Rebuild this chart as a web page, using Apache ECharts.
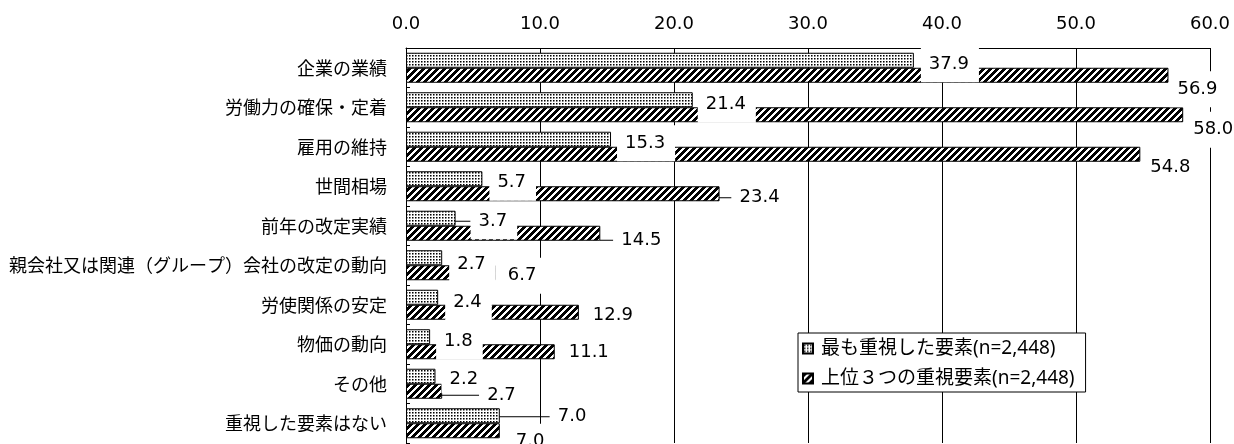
<!DOCTYPE html>
<html>
<head>
<meta charset="utf-8">
<script src="https://cdn.jsdelivr.net/npm/echarts@6/dist/echarts.min.js"></script>
<style>
html,body{margin:0;padding:0;background:#fff;}
#chart{width:1234px;height:444px;}
</style>
</head>
<body>
<div id="chart"></div>
<script>
// ---- data ----
const categories = ["企業の業績","労働力の確保・定着","雇用の維持","世間相場","前年の改定実績","親会社又は関連（グループ）会社の改定の動向","労使関係の安定","物価の動向","その他","重視した要素はない"];
const seriesNames = ["最も重視した要素(n=2,448)","上位３つの重視要素(n=2,448)"];
const mostImportant = [37.9, 21.4, 15.3, 5.7, 3.7, 2.7, 2.4, 1.8, 2.2, 7.0];
const top3 = [56.9, 58.0, 54.8, 23.4, 14.5, 6.7, 12.9, 11.1, 2.7, 7.0];
const xTicks = [0, 10, 20, 30, 40, 50, 60];

// ---- label placement (style, not data) ----
// [text start offset from bar end, vertical offset of text centre]
const labelShift = [
  [[15,4],[13,5],[14,4],[15,4],[23,3],[15,7],[15,5],[14,5],[14,3],[58,1]],
  [[9,14],[10,15],[10,13],[20,4],[21,7],[12,3],[14,3],[14,1],[45,4],[16,11]]
];
const leaderIdx = [[4,9],[3,4,8]];
const smallBottomPad = [[8],[]];
const PADL = 8;

function makeDots(){
  const c = document.createElement('canvas'); c.width = 3; c.height = 3;
  const g = c.getContext('2d');
  g.fillStyle = '#fff'; g.fillRect(0,0,3,3);
  g.fillStyle = '#000'; g.fillRect(1,1,1,1);
  g.fillStyle = '#777'; g.fillRect(2,1,1,1); g.fillRect(1,2,1,1);
  g.fillStyle = '#bbb'; g.fillRect(2,2,1,1);
  return c;
}
function makeHatch(){
  const n = 7;
  const c = document.createElement('canvas'); c.width = n; c.height = n;
  const g = c.getContext('2d');
  const img = g.createImageData(n, n);
  for (let y = 0; y < n; y++) for (let x = 0; x < n; x++) {
    const k = ((x + y) % n);
    const v = k < 4 ? 0 : 255;
    const i = (y*n + x)*4;
    img.data[i]=v; img.data[i+1]=v; img.data[i+2]=v; img.data[i+3]=255;
  }
  g.putImageData(img,0,0);
  return c;
}
const patterns = [
  {image: makeDots(), repeat: 'repeat'},
  {image: makeHatch(), repeat: 'repeat'}
];

const NUMFONT = 'DejaVu Sans, Verdana, sans-serif';
const JPFONT = '"Noto Sans CJK JP", sans-serif';
const LEGFONT = '"Noto Sans", "Noto Sans CJK JP", sans-serif';

function buildSeries(values, si){
  return {
    type: 'bar',
    name: seriesNames[si],
    z: si === 0 ? 3 : 2,
    barGap: '0%',
    barCategoryGap: '24%',
    itemStyle: {color: patterns[si], borderColor: '#000', borderWidth: 1},
    data: values.map((v, i) => {
      const item = {value: v, labelLine: {show: leaderIdx[si].indexOf(i) >= 0}};
      if (smallBottomPad[si].indexOf(i) >= 0) item.label = {padding: [9, 10, 1, PADL]};
      return item;
    }),
    label: {
      show: true,
      position: 'right',
      distance: 0,
      fontFamily: NUMFONT,
      fontSize: 18,
      color: '#000',
      backgroundColor: '#fff',
      padding: [9, 10, 9, PADL],
      formatter: p => Number(p.value).toFixed(1)
    },
    labelLine: {show: false, lineStyle: {color: '#000', width: 1}},
    labelLayout: function(p){
      const s = labelShift[si][p.dataIndex];
      return {dx: s[0] - PADL, dy: s[1]};
    },
    emphasis: {disabled: true}
  };
}

const chart = echarts.init(document.getElementById('chart'), null, {renderer: 'canvas'});
chart.setOption({
  animation: false,
  backgroundColor: '#fff',
  grid: {left: 406, right: 24, top: 48, bottom: 1, containLabel: false},
  xAxis: {
    type: 'value',
    position: 'top',
    min: xTicks[0],
    max: xTicks[xTicks.length-1],
    interval: xTicks[1] - xTicks[0],
    axisLine: {show: true, lineStyle: {color: '#000', width: 1}},
    axisTick: {show: false},
    splitLine: {show: true, lineStyle: {color: '#000', width: 1}},
    axisLabel: {
      margin: 15,
      fontFamily: NUMFONT,
      fontSize: 18,
      color: '#000',
      formatter: v => v.toFixed(1)
    }
  },
  yAxis: {
    type: 'category',
    inverse: true,
    data: categories,
    axisLine: {show: true, lineStyle: {color: '#000', width: 1}},
    axisTick: {show: true, inside: true, length: 4, lineStyle: {color: '#000'}},
    axisLabel: {margin: 19, fontFamily: JPFONT, fontSize: 18, color: '#000'}
  },
  legend: {
    orient: 'vertical',
    left: 798,
    top: 333,
    padding: [6, 11, 4, 4],
    itemGap: 11,
    itemWidth: 10,
    itemHeight: 10,
    icon: 'rect',
    borderColor: '#000',
    borderWidth: 1,
    backgroundColor: '#fff',
    textStyle: {fontFamily: LEGFONT, fontSize: 19, color: '#000', padding: [0,0,0,3]},
    data: seriesNames
  },
  series: [buildSeries(mostImportant, 0), buildSeries(top3, 1)]
});
</script>
</body>
</html>
